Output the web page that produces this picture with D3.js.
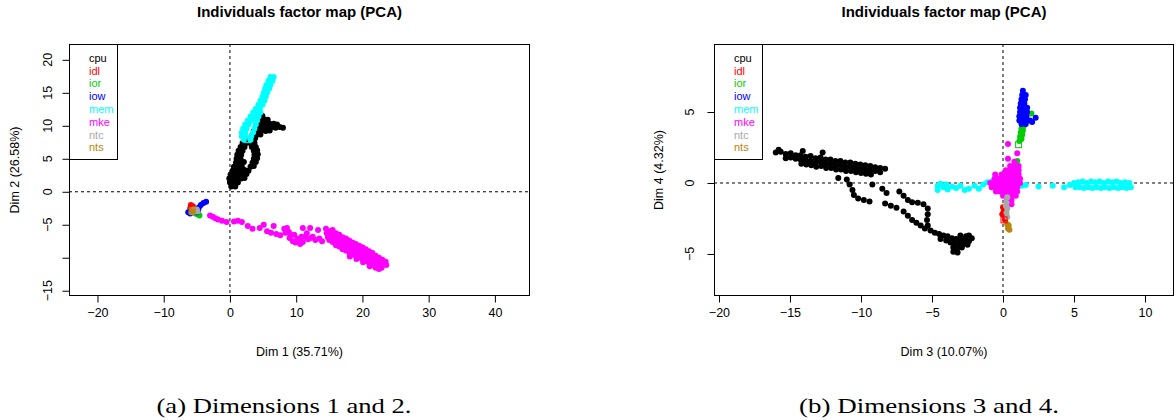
<!DOCTYPE html>
<html>
<head>
  <meta charset="utf-8" />
  <title>Individuals factor map (PCA)</title>
  <script src="https://d3js.org/d3.v7.min.js"></script>
  <style>
    body { margin: 0; background: #fff; }
    text { font-family: "Liberation Sans", Arial, sans-serif; }
  </style>
</head>
<body>
  <svg id="fig" width="1176" height="420"></svg>
  <script>
    // categories and their colours (FactoMineR palette)
    var categories = ["cpu", "idl", "ior", "iow", "mem", "mke", "ntc", "nts"];
    var catColors = ["#000000", "#FF0000", "#00CD00", "#0000FF", "#00FFFF", "#FF00FF", "#A9A9A9", "#B8860B"];

    // ---- panel (a): Dim 1 x Dim 2 ----
    var cpu12 = [[0.2,0.8],[0.8,0.8],
      [0.0,1.4],[0.6,1.4],[1.2,1.4],
      [-0.1,2.0],[0.5,2.0],[1.1,2.0],[1.7,2.0],[2.2,2.1],
      [0.1,2.6],[0.7,2.6],[1.3,2.6],[1.9,2.6],[2.5,2.7],
      [0.4,3.2],[1.0,3.2],[1.6,3.2],[2.2,3.3],[2.8,3.2],
      [0.6,3.8],[1.2,3.8],[1.8,3.8],[3.1,3.8],[3.6,3.9],
      [0.9,4.4],[1.5,4.4],[2.1,4.5],[3.4,4.4],[3.9,4.5],
      [1.0,5.0],[1.6,5.0],[3.6,5.0],[4.1,5.1],
      [1.1,5.6],[1.7,5.6],[3.7,5.6],[4.2,5.7],
      [1.3,6.2],[1.9,6.2],[3.6,6.2],[4.1,6.3],
      [1.6,6.8],[2.2,6.8],[3.3,6.8],[3.9,6.8],
      [1.9,7.4],[2.5,7.4],[3.1,7.4],[3.7,7.4],
      [2.2,8.0],[3.3,8.0],[3.8,8.1],
      [3.4,8.6],[4.0,8.6],[4.6,8.7],
      [3.6,9.2],[4.2,9.2],[4.8,9.3],[5.4,9.2],[6.0,9.3],
      [3.9,9.8],[4.5,9.8],[5.1,9.8],[5.7,9.9],[6.3,9.8],[6.9,9.7],[7.5,9.8],[8.0,9.7],
      [4.2,10.4],[4.8,10.4],[5.4,10.4],[6.0,10.3],[6.6,10.3],[7.1,10.2],
      [4.5,11.0],[5.1,11.0],[5.7,10.9],
      [4.9,11.5]];
    var idl12 = [[-5.9,-2.0],[-5.6,-2.2],[-6.0,-2.5],[-5.8,-2.8]];
    var ior12 = [[-4.6,-3.6],[-4.9,-3.4],[-5.2,-3.3]];
    var iow12 = [[-3.6,-1.5],[-4.0,-1.7],[-4.4,-2.0],[-4.7,-2.4],[-6.3,-3.1],[-6.0,-3.3],[-5.0,-3.1],[-4.8,-2.8]];
    var mem12 = [[6.1,17.4],[6.6,17.4],[5.8,16.8],[6.4,16.8],[5.5,16.2],[6.1,16.2],[5.3,15.6],[5.9,15.6],[5.1,15.0],[5.6,15.0],
      [4.9,14.4],[5.4,14.4],[4.6,13.8],[5.2,13.8],[4.3,13.2],[4.9,13.2],[3.9,12.6],[4.5,12.6],[3.5,12.0],[4.1,12.0],[4.6,12.0],
      [3.1,11.4],[3.6,11.4],[4.3,11.4],[2.7,10.8],[3.2,10.8],[4.1,10.8],[2.3,10.2],[2.8,10.2],[3.9,10.2],[2.0,9.6],[2.5,9.6],[3.7,9.6],
      [1.8,9.0],[2.3,9.0],[3.5,9.0],[1.8,8.4],[2.3,8.4],[3.2,8.4],[2.1,7.9],[3.1,7.9]];
    var mke12 = [[-3.0,-3.6],[-2.6,-3.8],[-2.2,-4.0],[-1.8,-4.2],[-1.2,-4.4],[-0.5,-4.6],[0.6,-4.5],[1.2,-4.4],[1.8,-4.6],[2.7,-5.2],[3.4,-5.6],[4.5,-5.5],[5.1,-5.0],[5.6,-6.0],[6.2,-6.2],[6.6,-5.2],[7.0,-6.4],[7.6,-6.6],[8.2,-5.6],[8.6,-5.5],[8.9,-6.1],[9.2,-6.6],[9.5,-7.5],[9.9,-7.7],[10.2,-7.1],[10.6,-7.9],[10.8,-6.8],[11.0,-5.5],[11.4,-6.8],[11.6,-6.3],[12.1,-5.5],[12.2,-7.0],[12.5,-6.8],[12.9,-7.3],[13.3,-5.8],[13.5,-7.1],[13.9,-7.5],
      [8.4,-6.2],[9.0,-7.0],[9.7,-6.5],[10.4,-7.4],[11.0,-7.6],[11.8,-7.2],
      [14.5,-5.6],[14.6,-6.3],[14.8,-6.9],[15.0,-6.0],[15.1,-6.6],[15.0,-7.3],[15.5,-5.8],[15.4,-6.4],[15.6,-7.0],[15.5,-7.6],[16.0,-6.3],[16.1,-6.9],[15.9,-7.5],[16.0,-8.1],[16.5,-6.5],[16.4,-7.1],[16.6,-7.7],[16.5,-8.3],[17.0,-6.9],[17.1,-7.5],[16.9,-8.1],[17.0,-8.7],[17.5,-7.1],[17.4,-7.7],[17.6,-8.3],[17.5,-8.9],[18.0,-7.4],[18.1,-8.0],[17.9,-8.6],[18.0,-9.2],[18.1,-9.8],[18.5,-7.7],[18.4,-8.3],[18.6,-8.9],[18.5,-9.5],[19.0,-7.9],[19.1,-8.5],[18.9,-9.1],[19.0,-9.7],[19.1,-10.2],[19.5,-8.2],[19.4,-8.8],[19.6,-9.4],[19.5,-10.0],[20.0,-8.4],[20.1,-9.0],[19.9,-9.6],[20.0,-10.2],[20.1,-10.7],[20.5,-8.7],[20.4,-9.3],[20.6,-9.9],[20.5,-10.5],[21.0,-9.0],[21.1,-9.6],[20.9,-10.2],[21.0,-10.8],[21.1,-11.3],[21.5,-9.3],[21.4,-9.9],[21.6,-10.5],[21.5,-11.1],[22.0,-9.7],[22.1,-10.3],[21.9,-10.9],[22.0,-11.5],[22.5,-10.0],[22.4,-10.6],[22.6,-11.2],[22.5,-11.7],[23.0,-10.3],[23.1,-10.9],[22.9,-11.5],[23.5,-10.6],[23.6,-11.1]];
    var ntc12 = [[-5.5,-2.7],[-5.0,-2.7],[-5.3,-3.0],[-5.8,-3.1],[-4.9,-3.0]];
    var nts12 = [[-5.7,-3.0]];
    // category centres that show as hollow squares
    var centreCats12 = ["mem", "nts"];
    var centres12 = [[2.7,7.9],[-5.7,-2.9]];

    // ---- panel (b): Dim 3 x Dim 4 ----
    var cpu34 = [[-16.0,2.15],[-15.65,2.2],[-15.3,2.05],[-14.95,2.1],[-14.6,1.95],[-14.25,1.95],[-13.9,1.85],[-13.55,1.9],[-13.2,1.75],[-12.85,1.8],[-12.5,1.65],[-12.15,1.65],[-11.8,1.55],[-11.45,1.55],[-11.1,1.45],[-10.75,1.45],[-10.4,1.35],[-10.05,1.3],[-9.7,1.25],[-9.35,1.2],[-9.0,1.1],[-8.65,1.05],[-8.3,1.0],
      [-15.3,1.75],[-14.95,1.8],[-14.6,1.7],[-14.25,1.65],[-13.9,1.6],[-13.55,1.55],[-13.2,1.45],[-12.85,1.5],[-12.5,1.35],[-12.15,1.35],[-11.8,1.25],[-11.45,1.25],[-11.1,1.15],[-10.75,1.15],[-10.4,1.05],[-10.05,1.0],[-9.7,0.95],[-9.35,0.9],[-9.0,0.85],[-8.65,0.75],
      [-14.2,1.35],[-13.85,1.3],[-13.5,1.25],[-13.15,1.15],[-12.8,1.2],[-12.45,1.05],[-12.1,1.05],[-11.75,0.95],[-11.4,0.95],[-11.05,0.85],[-10.7,0.85],[-10.35,0.75],[-10.0,0.7],[-9.65,0.65],[-9.3,0.6],
      [-12.7,2.15],[-14.1,2.25],[-15.8,2.35],
      [-11.6,0.35],[-11.0,0.25],[-10.8,-0.1],[-10.6,-0.5],[-10.5,-0.85],[-10.2,-1.1],[-9.8,-1.2],[-9.4,-1.3],[-9.2,-0.1],[-8.5,-0.4],[-8.2,-0.7],[-8.3,-1.45],[-7.9,-1.6],[-7.5,-1.75],[-7.3,-0.6],[-7.0,-0.9],[-6.7,-1.2],[-6.4,-1.35],[-6.0,-1.4],[-5.6,-1.5],[-5.3,-1.8],[-5.3,-2.2],[-5.35,-2.6],[-5.3,-3.0],
      [-7.0,-2.0],[-6.7,-2.3],[-6.4,-2.6],[-6.1,-2.8],[-5.8,-3.0],[-5.5,-3.2],[-5.1,-3.35],[-4.8,-3.5],[-4.5,-3.6],[-4.2,-3.7],[-3.9,-3.75],[-3.6,-3.9],[-3.3,-3.95],[-3.0,-4.0],[-2.7,-4.0],[-2.4,-4.1],[-2.2,-3.9],[-2.4,-3.7],
      [-3.4,-4.25],[-3.1,-4.3],[-2.8,-4.3],[-2.5,-4.35],[-3.7,-4.2],[-4.0,-4.05],[-3.5,-4.55],[-3.2,-4.6],[-2.9,-4.55],[-3.5,-4.85],[-3.2,-4.9],[-4.4,-3.95],[-3.0,-3.7],[-2.6,-3.75]];
    var idl34 = [[0.0,-1.7],[0.05,-2.0],[0.1,-2.3],[0.15,-2.6],[-0.05,-2.2]];
    var ior34 = [[1.45,4.0],[1.3,3.85],[1.4,3.7],[1.25,3.55],[1.35,3.4],[1.2,3.25],[1.3,3.1],[1.15,2.95],[2.0,4.9],[1.0,1.55]];
    var iow34 = [[1.4,6.5],[1.35,6.2],[1.6,6.2],[1.3,5.9],[1.55,5.9],[1.25,5.6],[1.5,5.6],[1.2,5.3],[1.45,5.3],[1.7,5.3],[1.2,5.0],[1.45,5.0],[1.7,5.0],[1.15,4.7],[1.4,4.7],[1.65,4.7],[1.15,4.4],[1.4,4.4],[1.65,4.4],[1.9,4.4],[1.3,4.15],[1.6,4.15],[2.3,4.6],[2.05,4.3]];
    var mem34 = [[-4.6,-0.5],[-4.6,-0.2],[-4.4,-0.05],[-4.2,-0.3],[-4.0,-0.1],[-3.9,-0.45],[-3.6,-0.25],[-3.3,-0.35],[-3.0,-0.2],[-2.7,-0.5],[-2.4,-0.4],[-2.0,-0.2],[-1.7,-0.4],[-1.4,-0.1],[-1.1,0.05],[-0.8,0.1],
      [1.3,-0.2],[1.6,-0.15],[2.5,-0.25],[3.5,-0.2],[4.3,-0.3],[4.7,-0.15],
      [5.0,0.0],[5.3,0.05],[5.6,0.1],[5.9,0.0],[6.2,0.1],[6.5,0.05],[6.8,0.1],[7.1,0.0],[7.4,0.1],[7.7,0.05],[8.0,0.1],[8.3,0.0],[8.6,0.05],[8.9,0.0],
      [5.1,-0.3],[5.4,-0.3],[5.7,-0.35],[6.0,-0.3],[6.3,-0.35],[6.6,-0.3],[6.9,-0.35],[7.2,-0.3],[7.5,-0.35],[7.8,-0.3],[8.1,-0.35],[8.4,-0.3],[8.7,-0.35],[9.0,-0.3]];
    var mke34 = [[0.8,1.5],
      [0.5,1.2],[0.8,1.2],[1.1,1.2],
      [0.2,0.9],[0.5,0.9],[0.8,0.9],[1.1,0.9],
      [-0.1,0.6],[0.2,0.6],[0.5,0.6],[0.8,0.6],[1.1,0.6],
      [-0.6,0.3],[-0.3,0.3],[0.0,0.3],[0.3,0.3],[0.6,0.3],[0.9,0.3],[1.2,0.3],
      [-0.9,0.0],[-0.6,0.0],[-0.3,0.0],[0.0,0.0],[0.3,0.0],[0.6,0.0],[0.9,0.0],[1.2,0.0],
      [-0.8,-0.3],[-0.5,-0.3],[-0.2,-0.3],[0.1,-0.3],[0.4,-0.3],[0.7,-0.3],[1.0,-0.3],
      [-0.5,-0.6],[-0.2,-0.6],[0.1,-0.6],[0.4,-0.6],[0.7,-0.6],[1.0,-0.6],
      [0.0,-0.9],[0.3,-0.9],[0.6,-0.9],[0.9,-0.9],
      [0.3,-1.2],[0.6,-1.2],
      [0.35,2.75],[0.35,1.7],[1.0,2.1],[-0.55,0.6],[0.6,-1.5]];
    var ntc34 = [[0.3,-1.0],[0.25,-1.4],[0.3,-1.8],[0.25,-2.1],[0.3,-2.4],[0.2,-1.6]];
    var nts34 = [[0.4,-3.0],[0.35,-3.2],[0.45,-3.3],[0.3,-2.9]];
    var centreCats34 = ["ior", "idl"];
    var centres34 = [[1.1,2.7],[0.07,-2.6]];

    // axis ticks and labels
    var xTicks12 = [-20, -10, 0, 10, 20, 30, 40];
    var yTicks12 = [-15, -10, -5, 0, 5, 10, 15, 20];
    var yLabels12 = ["\u221215", "", "\u22125", "0", "5", "10", "15", "20"];
    var xTicks34 = [-20, -15, -10, -5, 0, 5, 10];
    var yTicks34 = [-5, 0, 5];
    var yLabels34 = ["\u22125", "0", "5"];

    var svg = d3.select("#fig");
    var fmt = function (v) { return v < 0 ? "\u2212" + Math.abs(v) : String(v); };

    function drawPanel(p) {
      var x = d3.scaleLinear().domain(p.xDomain).range([p.left, p.right]);
      var y = d3.scaleLinear().domain(p.yDomain).range([p.bottom, p.top]);
      var g = svg.append("g");

      // title
      g.append("text")
        .attr("x", (p.left + p.right) / 2).attr("y", 17)
        .attr("text-anchor", "middle")
        .style("font-size", "15px").style("font-weight", "bold")
        .text("Individuals factor map (PCA)");

      // dashed zero lines
      g.append("line")
        .attr("x1", x(0)).attr("x2", x(0)).attr("y1", p.top).attr("y2", p.bottom)
        .attr("stroke", "#000").attr("stroke-dasharray", "3,3");
      g.append("line")
        .attr("x1", p.left).attr("x2", p.right).attr("y1", y(0)).attr("y2", y(0))
        .attr("stroke", "#000").attr("stroke-dasharray", "3,3");

      // individuals
      p.series.forEach(function (pts, i) {
        g.append("g").selectAll("circle")
          .data(pts)
          .join("circle")
          .attr("cx", function (d) { return x(d[0]); })
          .attr("cy", function (d) { return y(d[1]); })
          .attr("r", 3)
          .attr("fill", catColors[i]);
      });

      // category centres
      g.append("g").selectAll("rect")
        .data(p.centres)
        .join("rect")
        .attr("x", function (d) { return x(d[0]) - 3; })
        .attr("y", function (d) { return y(d[1]) - 3; })
        .attr("width", 6).attr("height", 6)
        .attr("fill", "none")
        .attr("stroke", function (d, i) { return catColors[categories.indexOf(p.centreCats[i])]; });

      // box
      g.append("rect")
        .attr("x", p.left + 0.5).attr("y", p.top + 0.5)
        .attr("width", p.right - p.left - 1).attr("height", p.bottom - p.top - 1)
        .attr("fill", "none").attr("stroke", "#000");

      // x axis
      var xa = g.append("g")
        .attr("transform", "translate(0," + (p.bottom - 0.5) + ")")
        .call(d3.axisBottom(x).tickValues(p.xTicks).tickSize(7).tickPadding(6).tickFormat(fmt));
      xa.select(".domain").remove();
      xa.selectAll("text").style("font-size", "12.5px").style("font-family", "Liberation Sans, Arial, sans-serif");

      // y axis (labels parallel to the axis, as in R)
      var ya = g.append("g")
        .attr("transform", "translate(" + (p.left + 0.5) + ",0)")
        .call(d3.axisLeft(y).tickValues(p.yTicks).tickSize(7).tickFormat(""));
      ya.select(".domain").remove();
      g.append("g").selectAll("text")
        .data(p.yTicks)
        .join("text")
        .attr("transform", function (d) { return "translate(" + p.yTickX + "," + y(d) + ") rotate(-90)"; })
        .attr("text-anchor", "middle")
        .attr("dy", "0.35em")
        .style("font-size", "12.5px")
        .text(function (d, i) { return p.yLabels[i]; });

      // axis titles
      g.append("text")
        .attr("x", (p.left + p.right) / 2).attr("y", 356)
        .attr("text-anchor", "middle")
        .style("font-size", "12.5px")
        .text(p.xTitle);
      g.append("text")
        .attr("transform", "translate(" + p.yTitleX + "," + ((p.top + p.bottom) / 2) + ") rotate(-90)")
        .attr("text-anchor", "middle")
        .attr("dy", "0.35em")
        .style("font-size", "12.5px")
        .text(p.yTitle);

      // legend
      var lg = g.append("g");
      lg.append("rect")
        .attr("x", p.left + 0.5).attr("y", p.top + 0.5)
        .attr("width", p.legendW).attr("height", 115)
        .attr("fill", "#fff").attr("stroke", "#000");
      lg.selectAll("text")
        .data(categories)
        .join("text")
        .attr("x", p.left + 20)
        .attr("y", function (d, i) { return p.top + 14 + i * 12.8; })
        .attr("dy", "0.35em")
        .style("font-size", "11px")
        .attr("fill", function (d, i) { return catColors[i]; })
        .text(function (d) { return d; });

      // caption below the panel
      svg.append("text")
        .attr("x", p.captionX).attr("y", 413)
        .attr("text-anchor", "middle")
        .attr("textLength", p.captionW)
        .attr("lengthAdjust", "spacingAndGlyphs")
        .style("font-family", "Liberation Serif, 'DejaVu Serif', serif")
        .style("font-size", "21px")
        .text(p.caption);
    }

    drawPanel({
      left: 69, right: 530, top: 44, bottom: 296,
      xDomain: [-24.3, 45.3], yDomain: [-15.8, 22.4],
      xTicks: xTicks12, yTicks: yTicks12, yLabels: yLabels12,
      series: [cpu12, idl12, ior12, iow12, mem12, mke12, ntc12, nts12],
      centres: centres12, centreCats: centreCats12,
      xTitle: "Dim 1 (35.71%)", yTitle: "Dim 2 (26.58%)",
      yTickX: 48, yTitleX: 15, legendW: 48,
      caption: "(a) Dimensions 1 and 2.", captionX: 284, captionW: 255
    });

    drawPanel({
      left: 714, right: 1174, top: 44, bottom: 296,
      xDomain: [-20.35, 12.04], yDomain: [-7.96, 9.79],
      xTicks: xTicks34, yTicks: yTicks34, yLabels: yLabels34,
      series: [cpu34, idl34, ior34, iow34, mem34, mke34, ntc34, nts34],
      centres: centres34, centreCats: centreCats34,
      xTitle: "Dim 3 (10.07%)", yTitle: "Dim 4 (4.32%)",
      yTickX: 690, yTitleX: 659, legendW: 48,
      caption: "(b) Dimensions 3 and 4.", captionX: 929, captionW: 260
    });
  </script>
</body>
</html>
